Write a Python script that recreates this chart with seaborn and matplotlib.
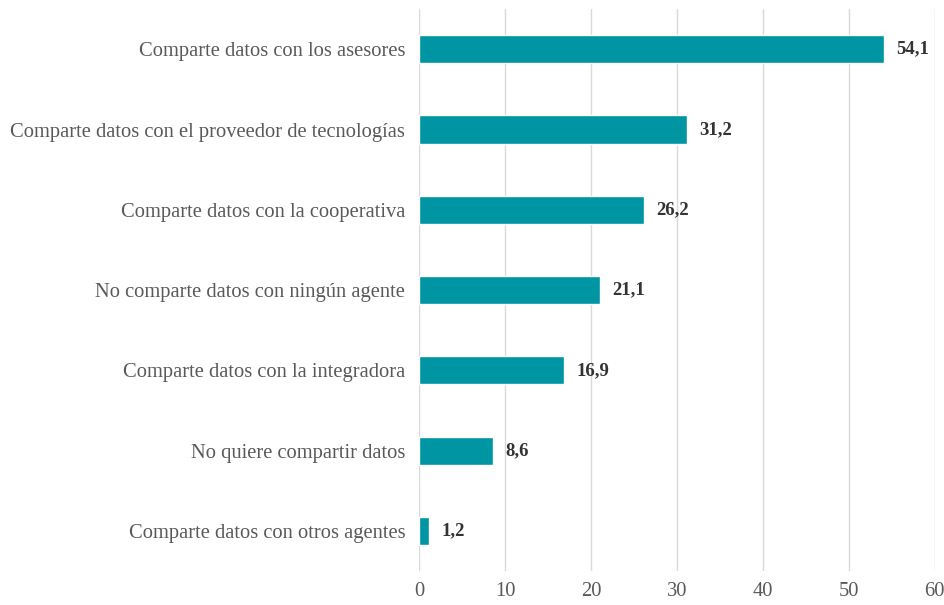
import seaborn as sns
import matplotlib.pyplot as plt
import pandas as pd

categories = [
    'Comparte datos con los asesores',
    'Comparte datos con el proveedor de tecnologías',
    'Comparte datos con la cooperativa',
    'No comparte datos con ningún agente',
    'Comparte datos con la integradora',
    'No quiere compartir datos',
    'Comparte datos con otros agentes',
]
values = [54.1, 31.2, 26.2, 21.1, 16.9, 8.6, 1.2]
xticks = [0, 10, 20, 30, 40, 50, 60]

df = pd.DataFrame({'cat': categories, 'val': values})

sns.set_style('white')
plt.rcParams['font.family'] = ['Liberation Serif', 'DejaVu Serif']

fig = plt.figure(figsize=(9.44, 6.05), dpi=100)
ax = fig.add_axes([0.444, 0.056, 0.546, 0.929])
sns.barplot(data=df, x='val', y='cat', color='#0095A3', width=0.35,
            saturation=1, ax=ax)

for i, v in enumerate(values):
    ax.text(v + 1.4, i, f'{v:.1f}'.replace('.', ','), va='center', ha='left',
            fontsize=13.5, fontweight='bold', color='#333333')

ax.set_xlim(0, 60)
ax.set_xticks(xticks)
ax.xaxis.grid(True, color='#d9d9d9', linewidth=1)
ax.set_axisbelow(True)
ax.tick_params(axis='both', labelsize=14.8, colors='#595959', length=0)
ax.tick_params(axis='y', pad=10)
ax.tick_params(axis='x', pad=8)
ax.set_xlabel('')
ax.set_ylabel('')
for s in ax.spines.values():
    s.set_visible(False)

fig.savefig('out.png', dpi=100)
